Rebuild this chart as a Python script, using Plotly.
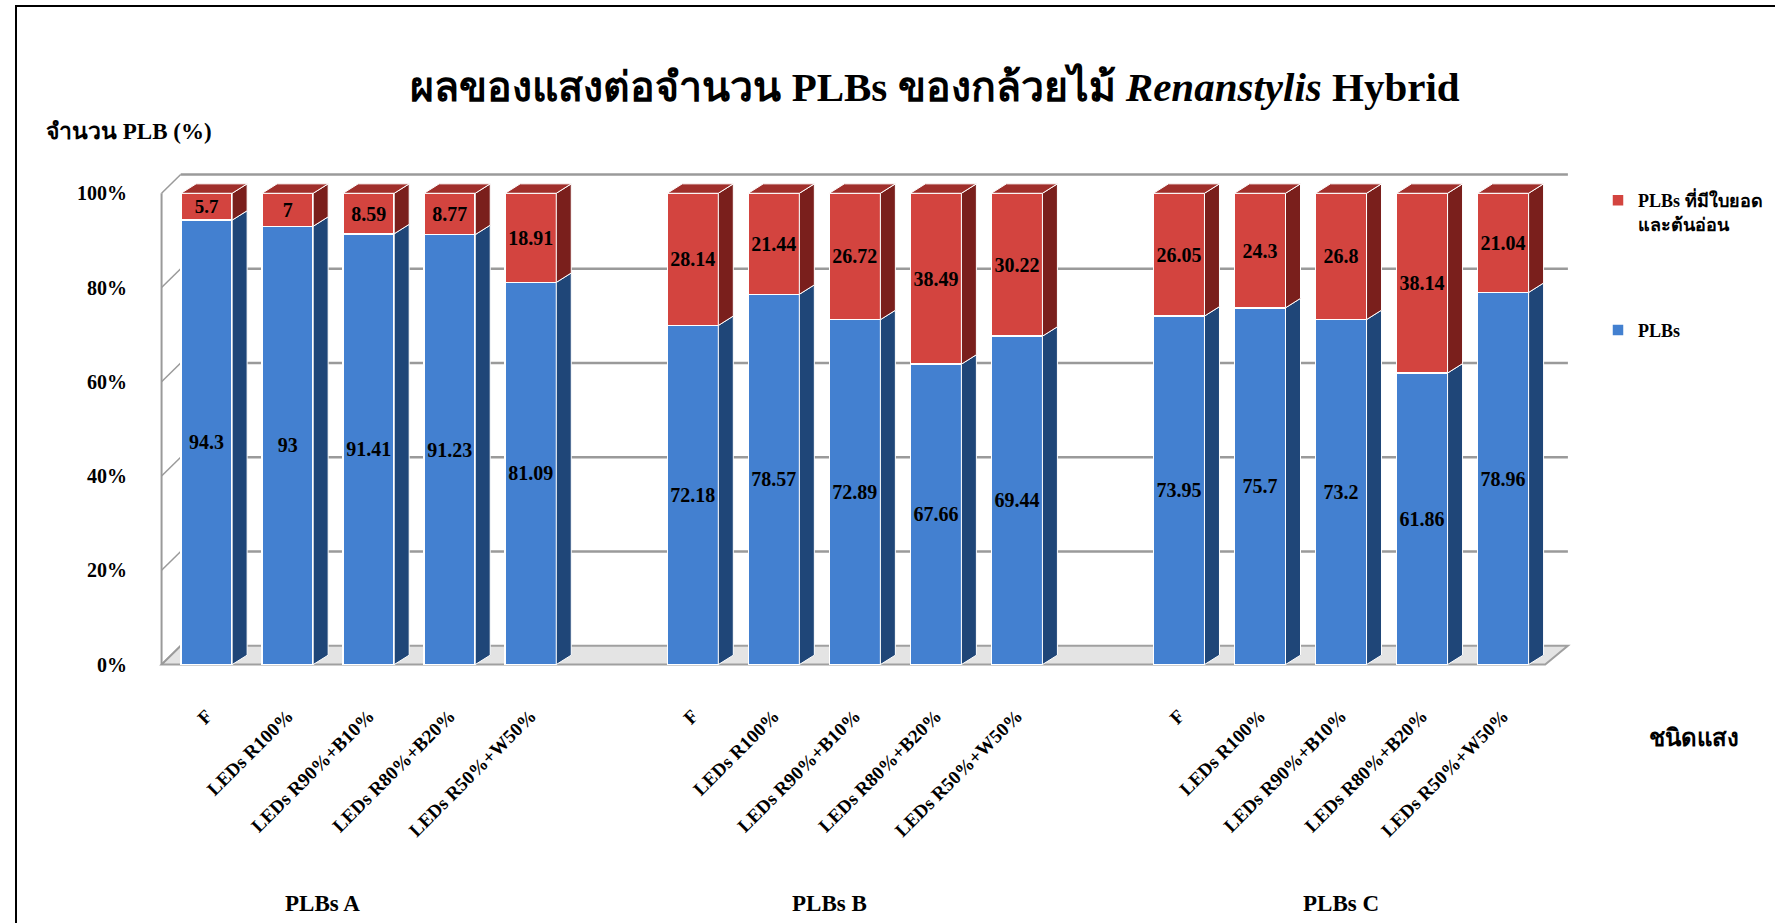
import plotly.graph_objects as go

# ---------------- data ----------------
categories = ["F", "LEDs R100%", "LEDs R90%+B10%", "LEDs R80%+B20%", "LEDs R50%+W50%"]
groups = ["PLBs A", "PLBs B", "PLBs C"]
plbs_A = [94.3, 93, 91.41, 91.23, 81.09]
shoot_A = [5.7, 7, 8.59, 8.77, 18.91]
plbs_B = [72.18, 78.57, 72.89, 67.66, 69.44]
shoot_B = [28.14, 21.44, 26.72, 38.49, 30.22]
plbs_C = [73.95, 75.7, 73.2, 61.86, 78.96]
shoot_C = [26.05, 24.3, 26.8, 38.14, 21.04]
y_ticks = [0, 20, 40, 60, 80, 100]

series_plbs = plbs_A + plbs_B + plbs_C
series_shoot = shoot_A + shoot_B + shoot_C

# ---------------- layout constants ----------------
W, H = 1775, 923
ML, MR, MT, MB = 158, 199, 165, 249
PW, PH = W - ML - MR, H - MT - MB
XR = [-0.6, 16.9]
YR = [-2, 106]

def px_x(px):
    return (px - ML) / PW

def px_y(py):
    return (H - MB - py) / PH

# positions: 5 bars per group, one empty slot between groups
pos = [g * 6 + i for g in range(len(groups)) for i in range(len(categories))]
ticktext = categories * len(groups)

BLUE, RED = "#4380D0", "#D3443F"
BLUE_SIDE, RED_SIDE, RED_TOP = "#1F4678", "#7A1F1C", "#A02F2B"
SERIF = "Liberation Serif, Times New Roman, serif"
BAR_W = 0.63
DX, DY = 0.185, 2.0

fig = go.Figure()

fig.add_trace(go.Bar(
    x=pos, y=series_plbs, name="PLBs", width=BAR_W,
    marker=dict(color=BLUE, line=dict(color="white", width=1.5)),
    text=[f"{v:g}" for v in series_plbs], textposition="inside",
    insidetextanchor="middle", textangle=0,
    textfont=dict(family=SERIF, size=20, color="black", weight="bold"),
    legendgroup="b", legendrank=2,
))
fig.add_trace(go.Bar(
    x=pos, y=series_shoot, name="PLBs ที่มีใบยอด<br>และต้นอ่อน", width=BAR_W,
    marker=dict(color=RED, line=dict(color="white", width=1.5)),
    text=[f"{v:g}" for v in series_shoot], textposition="inside",
    insidetextanchor="middle", textangle=0,
    textfont=dict(family=SERIF, size=20, color="black", weight="bold"),
    legendgroup="a", legendrank=1,
))

# 3D side / top faces derived from the normalised data
bx, by, rx, ry, tx, ty = [], [], [], [], [], []
for p, b, r in zip(pos, series_plbs, series_shoot):
    bn = b / (b + r) * 100
    xl, xr = p - BAR_W / 2, p + BAR_W / 2
    bx += [xr, xr + DX, xr + DX, xr, xr, None]
    by += [0, DY, bn + DY, bn, 0, None]
    rx += [xr, xr + DX, xr + DX, xr, xr, None]
    ry += [bn, bn + DY, 100 + DY, 100, bn, None]
    tx += [xl, xl + DX, xr + DX, xr, xl, None]
    ty += [100, 100 + DY, 100 + DY, 100, 100, None]
for xs, ys, c in [(bx, by, BLUE_SIDE), (rx, ry, RED_SIDE), (tx, ty, RED_TOP)]:
    fig.add_trace(go.Scatter(x=xs, y=ys, mode="lines", fill="toself", fillcolor=c,
                             line=dict(color="white", width=1), hoverinfo="skip",
                             showlegend=False))

# ---------------- walls / floor ----------------
WX0, WDX, WDY = -0.556, 0.236, 4.0
XBACK_END, XFRONT_END = 16.8, 16.52
shapes = []
GRID = "#9a9a9a"
# floor
shapes.append(dict(type="path", xref="x", yref="y", layer="below",
                   path=f"M {WX0},0 L {XFRONT_END},0 L {XBACK_END},{WDY} L {WX0+WDX},{WDY} Z",
                   fillcolor="#e4e4e4", line=dict(color="#a0a0a0", width=2)))
# back wall gridlines and side wall lines
for v in y_ticks:
    if v > 0:
        shapes.append(dict(type="line", xref="x", yref="y", layer="below",
                           x0=WX0 + WDX, x1=XBACK_END, y0=v + WDY, y1=v + WDY,
                           line=dict(color=GRID, width=2.5)))
    shapes.append(dict(type="line", xref="x", yref="y", layer="below",
                       x0=WX0, x1=WX0 + WDX, y0=v, y1=v + WDY,
                       line=dict(color=GRID, width=1.5)))
shapes.append(dict(type="line", xref="x", yref="y", layer="below",
                   x0=WX0, x1=WX0, y0=0, y1=100, line=dict(color=GRID, width=2)))
# outer frame
shapes.append(dict(type="rect", xref="paper", yref="paper",
                   x0=px_x(16), x1=px_x(W + 20), y0=px_y(6), y1=px_y(H + 20),
                   line=dict(color="black", width=2), fillcolor="rgba(0,0,0,0)"))

annotations = []
group_centers = [1.43, 7.69, 14.0]
for g, xc in zip(groups, group_centers):
    annotations.append(dict(text=g, x=xc, xref="x", y=px_y(903), yref="paper",
                            showarrow=False, xanchor="center", yanchor="middle",
                            font=dict(family=SERIF, size=23, color="black", weight="bold")))
annotations.append(dict(text="จำนวน PLB (%)", x=px_x(44), xref="paper", y=px_y(132),
                        yref="paper", showarrow=False, xanchor="left", yanchor="middle",
                        font=dict(family=SERIF, size=23, color="black", weight="bold")))
annotations.append(dict(text="ชนิดแสง", x=px_x(1647), xref="paper", y=px_y(738),
                        yref="paper", showarrow=False, xanchor="left", yanchor="middle",
                        font=dict(family=SERIF, size=24, color="black", weight="bold")))

fig.update_layout(
    width=W, height=H,
    margin=dict(l=ML, r=MR, t=MT, b=MB, autoexpand=False),
    paper_bgcolor="white", plot_bgcolor="white",
    barmode="stack", barnorm="percent",
    title=dict(text="ผลของแสงต่อจำนวน PLBs ของกล้วยไม้ <i>Renanstylis</i> Hybrid",
               x=935 / W, xanchor="center", y=1 - 87 / H, yanchor="middle",
               font=dict(family=SERIF, size=41, color="black", weight="bold")),
    xaxis=dict(range=XR, tickvals=pos, ticktext=ticktext, tickangle=-45,
               showgrid=False, zeroline=False, showline=False, ticks="",
               ticklabelstandoff=26,
               tickfont=dict(family=SERIF, size=19, color="black", weight="bold")),
    yaxis=dict(range=YR, tickvals=y_ticks, ticktext=[f"{v}%" for v in y_ticks],
               showgrid=False, zeroline=False, showline=False, ticks="",
               ticklabelstandoff=30,
               tickfont=dict(family=SERIF, size=20, color="black", weight="bold")),
    legend=dict(x=px_x(1598), y=px_y(182), xanchor="left", yanchor="top",
                traceorder="grouped", tracegroupgap=80, valign="top",
                font=dict(family=SERIF, size=18, color="black", weight="bold"),
                bgcolor="rgba(0,0,0,0)"),
    shapes=shapes, annotations=annotations,
    showlegend=True,
)

fig.write_html("out.html")
